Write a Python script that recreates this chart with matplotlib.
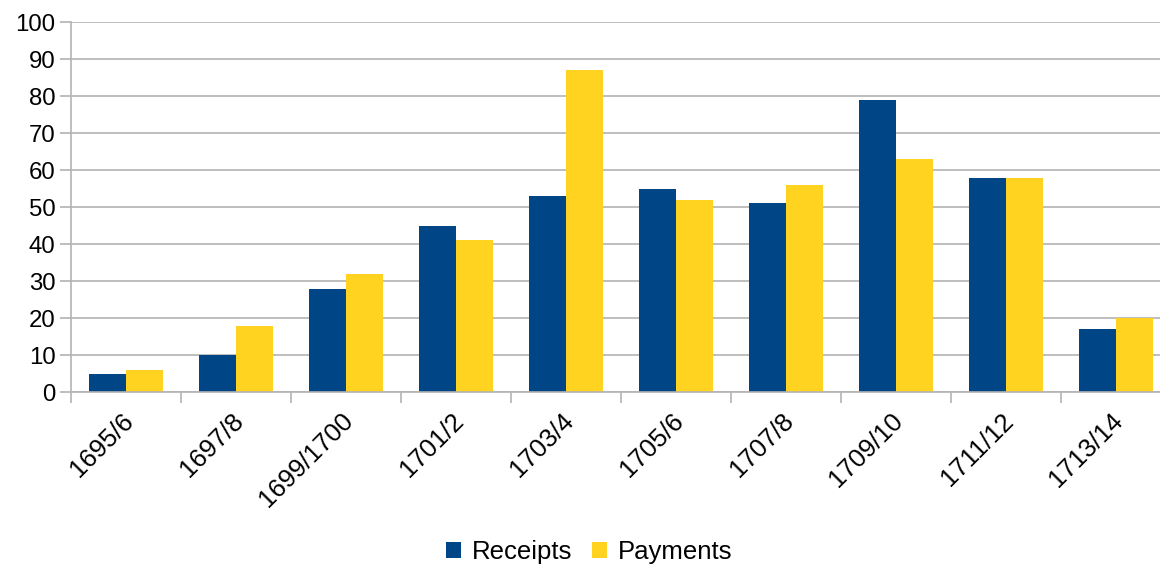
import numpy as np
import matplotlib.pyplot as plt
from matplotlib.ticker import FixedLocator
from matplotlib.transforms import ScaledTranslation

# Data
periods = ['1695/6', '1697/8', '1699/1700', '1701/2', '1703/4',
           '1705/6', '1707/8', '1709/10', '1711/12', '1713/14']
receipts = [5, 10, 28, 45, 53, 55, 51, 79, 58, 17]
payments = [6, 18, 32, 41, 87, 52, 56, 63, 58, 20]

plt.rcParams['font.family'] = ['Liberation Sans', 'DejaVu Sans']

fig = plt.figure(figsize=(11.6, 5.66), dpi=100)
# plot area runs slightly past the right edge, as in the reference
ax = fig.add_axes([0.0612, 0.307, 0.9483, 0.654])

x = np.arange(len(periods))
w = 0.336
ax.bar(x - w / 2, receipts, w, color='#004586', label='Receipts', zorder=3)
ax.bar(x + w / 2, payments, w, color='#ffd320', label='Payments', zorder=3)

ax.set_xlim(-0.5, len(periods) - 0.5)
ax.set_ylim(0, 100)
ax.set_yticks(range(0, 101, 10))
ax.yaxis.grid(True, color='#b3b3b3', linewidth=1.2, zorder=0)

ax.set_xticks(x)
ax.set_xticklabels(periods, rotation=45, ha='right', rotation_mode='anchor', fontsize=18.5)
ax.tick_params(axis='x', which='major', length=0, pad=9)
ax.xaxis.set_minor_locator(FixedLocator(np.arange(-0.5, len(periods), 1.0)))
ax.tick_params(axis='x', which='minor', length=8, width=1.2, color='#b3b3b3')
ax.tick_params(axis='y', length=8, width=1.2, color='#b3b3b3', labelsize=17.3, pad=3)

# nudge rotated labels down-left a little
shift = ScaledTranslation(-0.05, -0.04, fig.dpi_scale_trans)
for lbl in ax.get_xticklabels():
    lbl.set_transform(lbl.get_transform() + shift)

for side in ['top', 'right']:
    ax.spines[side].set_visible(False)
for side in ['left', 'bottom']:
    ax.spines[side].set_color('#b3b3b3')
    ax.spines[side].set_linewidth(1.2)
ax.spines['bottom'].set_zorder(4)

fig.legend(loc='center', bbox_to_anchor=(0.508, 0.024), ncol=2, frameon=False,
           fontsize=18.5, handlelength=0.58, handleheight=0.58, handletextpad=0.4,
           columnspacing=0.8)

fig.savefig('out.png', dpi=100)
